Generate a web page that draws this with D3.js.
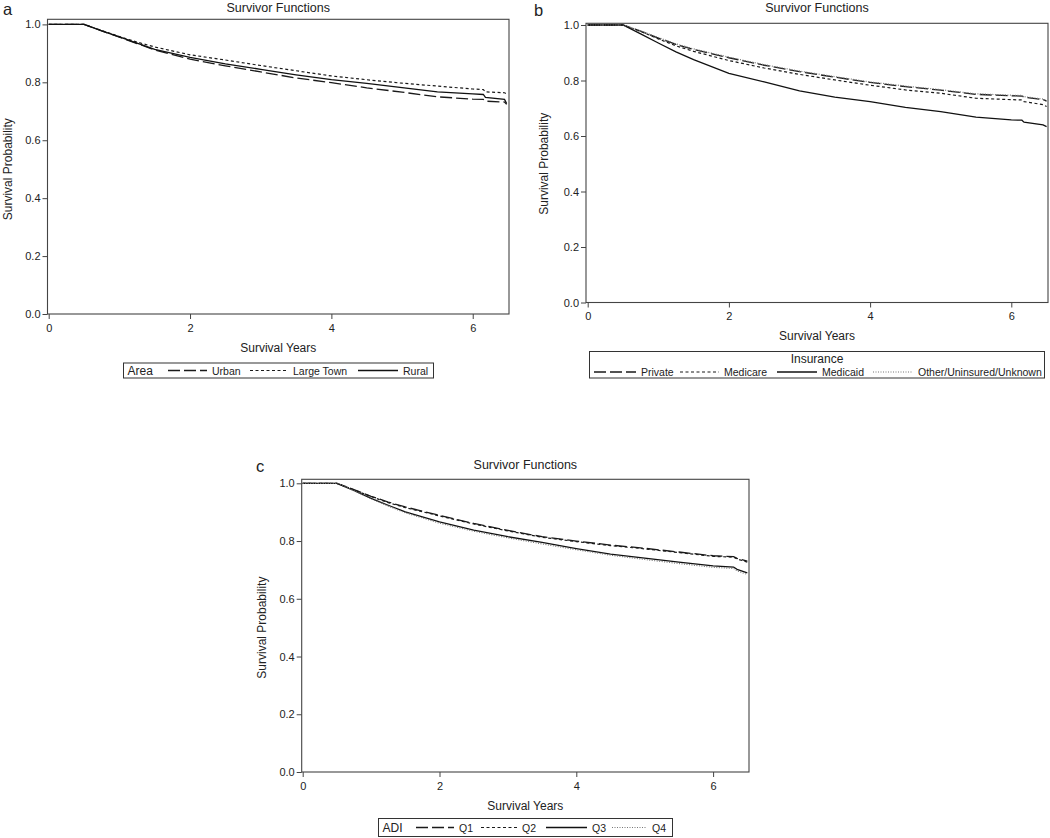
<!DOCTYPE html>
<html><head><meta charset="utf-8">
<script src="https://cdn.jsdelivr.net/npm/d3@7"></script>
<style>
body{margin:0;background:#fff;}
text{font-family:"Liberation Sans",Arial,sans-serif;fill:#222;}
</style></head>
<body><svg id="chart" width="1050" height="838"></svg>
<script>
// ---------- DATA ----------
const xTicks = [0, 2, 4, 6];
const yTicks = [0, 0.2, 0.4, 0.6, 0.8, 1.0];
const yTickLabels = ["0.0", "0.2", "0.4", "0.6", "0.8", "1.0"];

// Panel a: Area
const timesA    = [0, 0.5, 0.75, 1.0, 1.25, 1.5, 2.0, 2.5, 3.0, 3.5, 4.0, 4.5, 5.0, 5.5, 6.0, 6.15, 6.18, 6.45, 6.48];
const urban     = [1, 1, 0.978, 0.956, 0.934, 0.912, 0.880, 0.857, 0.836, 0.815, 0.799, 0.781, 0.766, 0.750, 0.742, 0.741, 0.735, 0.732, 0.724];
const largeTown = [1, 1, 0.979, 0.958, 0.939, 0.922, 0.895, 0.877, 0.858, 0.840, 0.822, 0.809, 0.797, 0.787, 0.777, 0.775, 0.767, 0.764, 0.760];
const rural     = [1, 1, 0.978, 0.957, 0.935, 0.914, 0.886, 0.864, 0.845, 0.826, 0.809, 0.796, 0.782, 0.767, 0.760, 0.758, 0.748, 0.741, 0.727];

// Panel b: Insurance
const timesB   = [0, 0.5, 0.75, 1.0, 1.25, 1.5, 2.0, 2.5, 3.0, 3.5, 4.0, 4.5, 5.0, 5.5, 6.0, 6.15, 6.18, 6.45, 6.5];
const privateIns = [1, 1, 0.978, 0.953, 0.930, 0.912, 0.882, 0.855, 0.832, 0.812, 0.793, 0.778, 0.765, 0.750, 0.745, 0.744, 0.740, 0.731, 0.726];
const medicare   = [1, 1, 0.977, 0.950, 0.925, 0.905, 0.872, 0.845, 0.822, 0.802, 0.783, 0.766, 0.754, 0.736, 0.731, 0.730, 0.724, 0.713, 0.706];
const medicaid   = [1, 1, 0.968, 0.935, 0.903, 0.875, 0.826, 0.795, 0.763, 0.740, 0.724, 0.703, 0.688, 0.668, 0.658, 0.657, 0.650, 0.640, 0.634];
const otherIns   = [1, 1, 0.979, 0.955, 0.932, 0.914, 0.884, 0.857, 0.834, 0.814, 0.795, 0.780, 0.767, 0.752, 0.747, 0.746, 0.742, 0.733, 0.728];

// Panel c: ADI
const timesC = [0, 0.5, 0.75, 1.0, 1.25, 1.5, 2.0, 2.5, 3.0, 3.5, 4.0, 4.5, 5.0, 5.5, 6.0, 6.3, 6.35, 6.5];
const q1 = [1, 1, 0.978, 0.955, 0.935, 0.918, 0.889, 0.861, 0.837, 0.815, 0.800, 0.786, 0.775, 0.762, 0.749, 0.746, 0.740, 0.730];
const q2 = [1, 1, 0.977, 0.954, 0.933, 0.916, 0.887, 0.859, 0.835, 0.813, 0.798, 0.784, 0.773, 0.760, 0.747, 0.744, 0.738, 0.727];
const q3 = [1, 1, 0.975, 0.948, 0.924, 0.901, 0.866, 0.838, 0.815, 0.795, 0.774, 0.755, 0.741, 0.727, 0.714, 0.710, 0.702, 0.690];
const q4 = [1, 1, 0.974, 0.946, 0.921, 0.898, 0.862, 0.834, 0.811, 0.790, 0.770, 0.751, 0.736, 0.722, 0.709, 0.705, 0.697, 0.684];

// ---------- STYLES ----------
const styles = {
  longdash: {dash: "12,4", color: "#1a1a1a", width: 1.3},
  shortdash: {dash: "3,2.5", color: "#1a1a1a", width: 1.2},
  solid: {dash: null, color: "#111", width: 1.3},
  dotted: {dash: "1,1.5", color: "#777", width: 1.2}
};

const svg = d3.select("#chart");

function drawPanel(p) {
  const g = svg.append("g");
  const x = d3.scaleLinear().domain([0, 6.5]).range([p.x0, p.x0 + 6.5 * p.pxPerYear]);
  const y = d3.scaleLinear().domain([0, 1]).range([p.y0, p.y1]);

  g.append("rect").attr("x", p.fL).attr("y", p.fT)
    .attr("width", p.fR - p.fL).attr("height", p.y0 - p.fT)
    .attr("fill", "none").attr("stroke", "#444").attr("stroke-width", 1.1);

  const yAxis = d3.axisLeft(y).tickValues(yTicks).tickSize(5).tickPadding(2)
    .tickFormat((d, i) => yTickLabels[i]);
  const ya = g.append("g").attr("transform", `translate(${p.fL},0)`).call(yAxis);
  ya.select(".domain").remove();
  ya.selectAll("line").attr("stroke", "#444");
  ya.selectAll("text").style("font-family", '"Liberation Sans",Arial,sans-serif').style("font-size", "11px").attr("fill", "#333");

  const xAxis = d3.axisBottom(x).tickValues(xTicks).tickSize(5).tickPadding(5).tickFormat(d3.format("d"));
  const xa = g.append("g").attr("transform", `translate(0,${p.y0})`).call(xAxis);
  xa.select(".domain").remove();
  xa.selectAll("line").attr("stroke", "#444");
  xa.selectAll("text").style("font-family", '"Liberation Sans",Arial,sans-serif').style("font-size", "11px").attr("fill", "#333");

  const line = d3.line().x(d => x(d[0])).y(d => y(d[1]));
  p.series.forEach(s => {
    const st = styles[s.style];
    const pts = p.times.map((t, i) => [t, s.values[i]]);
    g.append("path").attr("d", line(pts)).attr("fill", "none")
      .attr("stroke", st.color).attr("stroke-width", st.width)
      .attr("stroke-dasharray", st.dash);
  });

  const cx = (p.fL + p.fR) / 2;
  g.append("text").attr("x", cx).attr("y", p.titleY).attr("text-anchor", "middle")
    .style("font-size", "12.5px").text("Survivor Functions");
  g.append("text").attr("x", p.letterX).attr("y", p.letterY)
    .style("font-size", "16.5px").text(p.letter);
  g.append("text").attr("x", cx).attr("y", p.xLabelY).attr("text-anchor", "middle")
    .style("font-size", "12px").text("Survival Years");
  g.append("text").attr("transform", `translate(${p.yLabelX},${(p.y0 + p.y1) / 2}) rotate(-90)`)
    .attr("text-anchor", "middle").style("font-size", "12px").text("Survival Probability");

  const L = p.legend;
  g.append("rect").attr("x", L.x).attr("y", L.y).attr("width", L.w).attr("height", L.h)
    .attr("fill", "none").attr("stroke", "#333").attr("stroke-width", 1);
  if (L.titleCentered) {
    g.append("text").attr("x", L.x + L.w / 2).attr("y", L.titleY).attr("text-anchor", "middle")
      .style("font-size", "12px").text(L.title);
  } else {
    g.append("text").attr("x", L.x + 4).attr("y", L.rowY + 4).style("font-size", "12px").text(L.title);
  }
  p.series.forEach((s, i) => {
    const st = styles[s.style];
    const it = L.items[i];
    g.append("line").attr("x1", it[0]).attr("x2", it[1]).attr("y1", L.rowY).attr("y2", L.rowY)
      .attr("stroke", st.color).attr("stroke-width", st.width).attr("stroke-dasharray", st.dash);
    g.append("text").attr("x", it[1] + 5).attr("y", L.rowY + 4).style("font-size", "10.5px")
      .attr("fill", "#333").text(s.name);
  });
}

drawPanel({
  letter: "a", letterX: 3, letterY: 15,
  x0: 48.7, pxPerYear: 70.67, y0: 314, y1: 24.4,
  fL: 47.5, fR: 509, fT: 19.3,
  titleY: 12, xLabelY: 352, yLabelX: 12,
  times: timesA,
  series: [
    {name: "Urban", values: urban, style: "longdash"},
    {name: "Large Town", values: largeTown, style: "shortdash"},
    {name: "Rural", values: rural, style: "solid"}
  ],
  legend: {x: 123.5, y: 363, w: 310, h: 15, title: "Area", rowY: 370.5,
    items: [[168, 207], [250, 288], [358, 398]]}
});

drawPanel({
  letter: "b", letterX: 534, letterY: 16,
  x0: 587.7, pxPerYear: 70.6, y0: 302.5, y1: 25,
  fL: 586, fR: 1048, fT: 23.3,
  titleY: 12, xLabelY: 340, yLabelX: 548,
  times: timesB,
  series: [
    {name: "Private", values: privateIns, style: "longdash"},
    {name: "Medicare", values: medicare, style: "shortdash"},
    {name: "Medicaid", values: medicaid, style: "solid"},
    {name: "Other/Uninsured/Unknown", values: otherIns, style: "dotted"}
  ],
  legend: {x: 589.5, y: 351.5, w: 455, h: 26.5, title: "Insurance", titleCentered: true, titleY: 363, rowY: 372,
    items: [[594, 636], [680, 719], [777, 817], [873, 913]]}
});

drawPanel({
  letter: "c", letterX: 256, letterY: 472,
  x0: 302.7, pxPerYear: 68.4, y0: 772, y1: 483.3,
  fL: 301.7, fR: 749, fT: 479.3,
  titleY: 469, xLabelY: 810, yLabelX: 266,
  times: timesC,
  series: [
    {name: "Q1", values: q1, style: "longdash"},
    {name: "Q2", values: q2, style: "shortdash"},
    {name: "Q3", values: q3, style: "solid"},
    {name: "Q4", values: q4, style: "dotted"}
  ],
  legend: {x: 378.5, y: 818.5, w: 294, h: 18, title: "ADI", rowY: 827.5,
    items: [[416, 454], [481, 517], [546, 587], [612, 647]]}
});
</script></body></html>
